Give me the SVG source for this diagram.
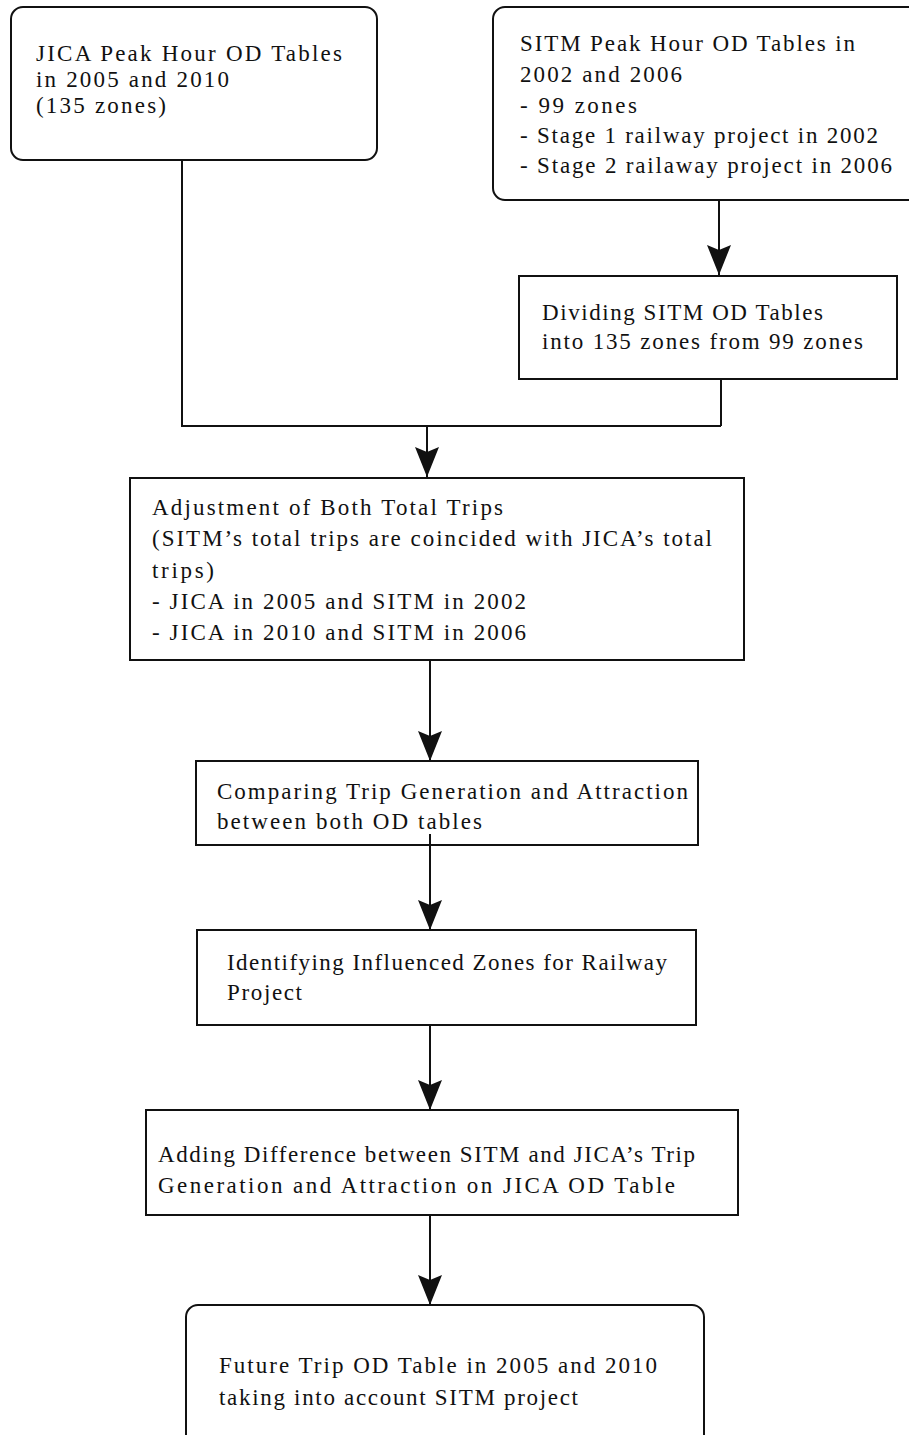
<svg xmlns="http://www.w3.org/2000/svg" width="909" height="1435" viewBox="0 0 909 1435">
<style>
  .box{fill:#fff;stroke:#111;stroke-width:2}
  .t{font-family:"Liberation Serif","Times New Roman",serif;font-size:23px;fill:#111}
  .c{fill:none;stroke:#111;stroke-width:2}
</style>
<defs>
  <marker id="ah" markerUnits="userSpaceOnUse" markerWidth="32" markerHeight="26" viewBox="0 0 32 26" refX="30" refY="13" orient="auto">
    <path d="M0,1 L30,13 L0,25 L5,13 Z" fill="#111"/>
  </marker>
</defs>
<rect width="909" height="1435" fill="#fff"/>

<g id="jica">
  <rect class="box" x="11" y="7" width="366" height="153" rx="12"/>
  <text class="t" x="36" y="61" textLength="306">JICA Peak Hour OD Tables</text>
  <text class="t" x="36" y="87" textLength="193">in 2005 and 2010</text>
  <text class="t" x="36" y="113" textLength="130">(135 zones)</text>
</g>

<g id="sitm">
  <rect class="box" x="493" y="7" width="430" height="193" rx="12"/>
  <text class="t" x="520" y="51" textLength="335">SITM Peak Hour OD Tables in</text>
  <text class="t" x="520" y="82" textLength="162">2002 and 2006</text>
  <text class="t" x="520" y="113" textLength="117">- 99 zones</text>
  <text class="t" x="520" y="143" textLength="358">- Stage 1 railway project in 2002</text>
  <text class="t" x="520" y="173" textLength="372">- Stage 2 railaway project in 2006</text>
</g>

<g id="dividing">
  <rect class="box" x="519" y="276" width="378" height="103"/>
  <text class="t" x="542" y="320" textLength="281">Dividing SITM OD Tables</text>
  <text class="t" x="542" y="349" textLength="321">into 135 zones from 99 zones</text>
</g>

<g id="adjustment">
  <rect class="box" x="130" y="478" width="614" height="182"/>
  <text class="t" x="152" y="515" textLength="351">Adjustment of Both Total Trips</text>
  <text class="t" x="152" y="546" textLength="560">(SITM’s total trips are coincided with JICA’s total</text>
  <text class="t" x="152" y="578" textLength="62">trips)</text>
  <text class="t" x="152" y="609" textLength="374">- JICA in 2005 and SITM in 2002</text>
  <text class="t" x="152" y="640" textLength="374">- JICA in 2010 and SITM in 2006</text>
</g>

<g id="comparing">
  <rect class="box" x="196" y="761" width="502" height="84"/>
  <text class="t" x="217" y="799" textLength="471">Comparing Trip Generation and Attraction</text>
  <text class="t" x="217" y="829" textLength="265">between both OD tables</text>
</g>

<g id="identifying">
  <rect class="box" x="197" y="930" width="499" height="95"/>
  <text class="t" x="227" y="970" textLength="440">Identifying Influenced Zones for Railway</text>
  <text class="t" x="227" y="1000" textLength="75">Project</text>
</g>

<g id="adding">
  <rect class="box" x="146" y="1110" width="592" height="105"/>
  <text class="t" x="158" y="1162" textLength="537">Adding Difference between SITM and JICA’s Trip</text>
  <text class="t" x="158" y="1193" textLength="517">Generation and Attraction on JICA OD Table</text>
</g>

<g id="future">
  <rect class="box" x="186" y="1305" width="518" height="145" rx="12"/>
  <text class="t" x="219" y="1373" textLength="438">Future Trip OD Table in 2005 and 2010</text>
  <text class="t" x="219" y="1405" textLength="359">taking into account SITM project</text>
</g>

<g id="connectors">
  <polyline class="c" points="182,160 182,426 721,426"/>
  <line class="c" x1="721" y1="379" x2="721" y2="426"/>
  <line class="c" x1="427" y1="426" x2="427" y2="477" marker-end="url(#ah)"/>
  <line class="c" x1="719" y1="200" x2="719" y2="275" marker-end="url(#ah)"/>
  <line class="c" x1="430" y1="660" x2="430" y2="761" marker-end="url(#ah)"/>
  <line class="c" x1="430" y1="834" x2="430" y2="930" marker-end="url(#ah)"/>
  <line class="c" x1="430" y1="1025" x2="430" y2="1110" marker-end="url(#ah)"/>
  <line class="c" x1="430" y1="1215" x2="430" y2="1305" marker-end="url(#ah)"/>
</g>
</svg>
